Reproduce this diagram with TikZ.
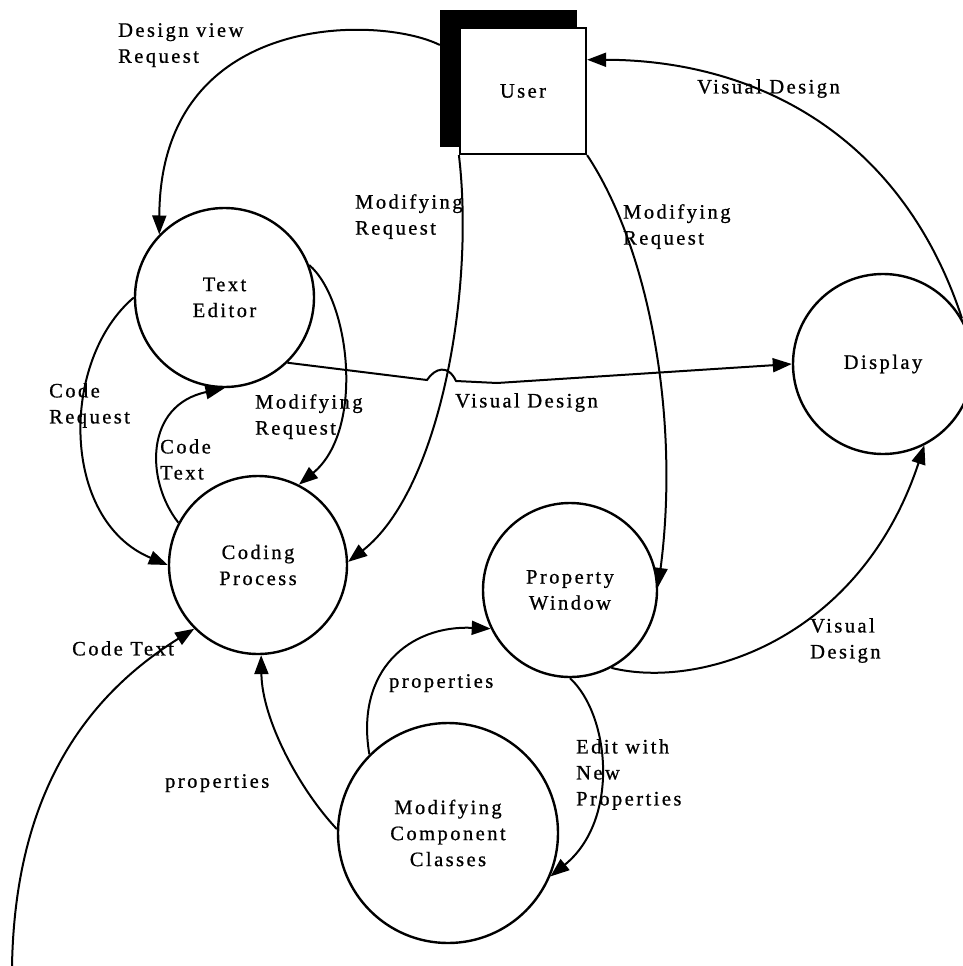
\documentclass[tikz,border=0pt]{standalone}
\usepackage{fontspec}
\setmainfont{Liberation Serif}[LetterSpace=12,FakeBold=0.8]
\usetikzlibrary{arrows.meta}
\begin{document}
\begin{tikzpicture}[x=1pt,y=-1pt,
  every node/.style={font=\fontsize{20.5}{26}\selectfont},
  proc/.style={circle, draw, line width=2.4pt, inner sep=0pt, align=center},
  flow/.style={line width=2pt, -{Triangle[length=19pt,width=14pt]}},
  lbl/.style={inner sep=0pt, anchor=north west, align=left}]
\useasboundingbox (0,0) rectangle (963,966);
% external entity with shadow
\node[fill=black, minimum size=137pt, inner sep=0pt] (ushadow) at (508.5,78.5) {};
\node[draw, fill=white, line width=2.2pt, minimum size=126pt, inner sep=0pt] (user) at (523,91) {User};
% processes
\node[proc, minimum size=179pt] (te) at (224.5,297.5) {Text\\Editor};
\node[proc, minimum size=178pt] (cp) at (258,565) {Coding\\Process};
\node[proc, minimum size=180pt] (disp) at (883,364) {Display};
\node[proc, minimum size=174pt] (pw) at (570,590) {Property\\Window};
\node[proc, minimum size=220pt] (mcc) at (448,833) {Modifying\\Component\\Classes};
\coordinate (ext) at (12,966);
% connectors
\draw[flow] (ushadow.154) .. controls (380,15) and (160,10) .. (te.136);
\draw[flow] (user.south west) .. controls (475,290) and (440,490) .. (cp.2);
\draw[flow] (user.south east) .. controls (650,250) and (680,420) .. (pw.2);
\draw[flow] (disp.30) .. controls (900,130) and (750,60) .. (user.26);
\draw[flow] (te.-46) -- (427,380) .. controls (435,368) and (448,364) .. (456,381) -- (497,383) -- (disp.180);
\draw[flow] (te.180) .. controls (60,360) and (60,520) .. (cp.180);
\draw[flow] (cp.152) .. controls (145,480) and (145,405) .. (te.270);
\draw[flow] (te.21) .. controls (350,300) and (365,430) .. (cp.63);
\draw[flow] (ext) .. controls (15,800) and (80,700) .. (cp.225);
\draw[flow] (mcc.178) .. controls (300,790) and (262,720) .. (cp.-88);
\draw[flow] (mcc.135) .. controls (355,670) and (410,625) .. (pw.206);
\draw[flow] (pw.270) .. controls (610,715) and (620,820) .. (mcc.-23);
\draw[flow] (pw.-62) .. controls (700,690) and (860,640) .. (disp.-63);
% labels
\node[lbl] (l1) at (118,23) {Design view\\Request};
\node[lbl] (l2) at (355,194) {Modifying\\Request};
\node[lbl] (l3) at (623,204) {Modifying\\Request};
\node[lbl] (l4) at (697,79) {Visual Design};
\node[lbl] (l5) at (455,393) {Visual Design};
\node[lbl] (l6) at (49,383) {Code\\Request};
\node[lbl] (l7) at (160,439) {Code\\Text};
\node[lbl] (l8) at (255,394) {Modifying\\Request};
\node[lbl] (l9) at (72,641) {Code Text};
\node[lbl] (l10) at (165,774) {properties};
\node[lbl] (l11) at (389,674) {properties};
\node[lbl] (l12) at (576,739) {Edit with\\New\\Properties};
\node[lbl] (l13) at (810,618) {Visual\\Design};
\end{tikzpicture}
\end{document}
